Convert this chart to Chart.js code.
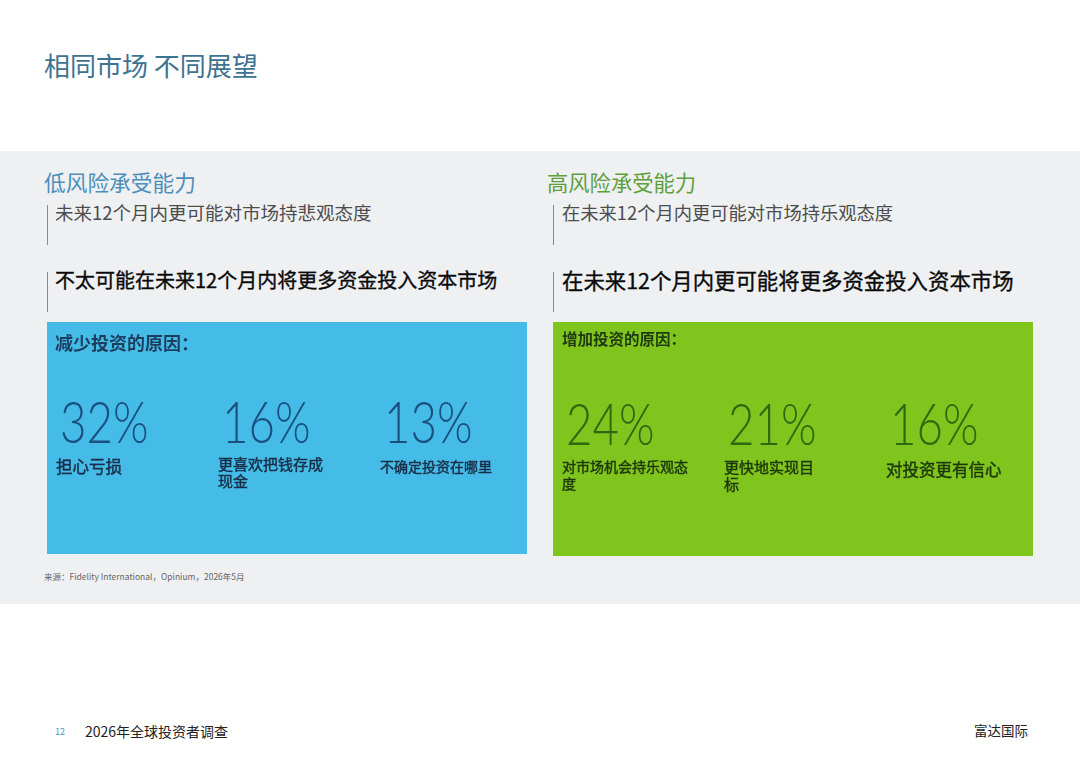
<!DOCTYPE html>
<html lang="zh-CN">
<head>
<meta charset="utf-8">
<script src="https://cdn.jsdelivr.net/npm/chart.js@4.4.1/dist/chart.umd.min.js"></script>
<style>
  html, body { margin: 0; padding: 0; background: #ffffff; }
  #page { position: relative; width: 1080px; height: 764px; overflow: hidden; background: #ffffff;
          font-family: "Noto Sans CJK SC", "Noto Sans", sans-serif; }
  .abs { position: absolute; white-space: nowrap; line-height: 1; }
  #band { position: absolute; left: 0; top: 151px; width: 1080px; height: 453px; background: #eff0f2; }
  .vbar { position: absolute; width: 1px; background: #8a8a8a; }
  .strong { font-weight: 400; color: #0a0a0a; -webkit-text-stroke: 0.35px #0a0a0a; }
  canvas { position: absolute; }
</style>
</head>
<body>
<div id="page">
  <div class="abs" style="left:44px; top:52px; font-size:26px; color:#3d7290;">相同市场 不同展望</div>
  <div id="band"></div>

  <div class="abs" style="left:44px; top:171px; font-size:21.7px; color:#4b8fba;">低风险承受能力</div>
  <div class="vbar" style="left:47px; top:205px; height:40px;"></div>
  <div class="abs" style="left:55px; top:203px; font-size:18.5px; color:#4d4d4d;">未来12个月内更可能对市场持悲观态度</div>
  <div class="vbar" style="left:47px; top:272px; height:40px;"></div>
  <div class="abs strong" style="left:55px; top:270px; font-size:20px;">不太可能在未来12个月内将更多资金投入资本市场</div>

  <div class="abs" style="left:547px; top:171px; font-size:21.3px; color:#5f9f3b;">高风险承受能力</div>
  <div class="vbar" style="left:553px; top:205px; height:40px;"></div>
  <div class="abs" style="left:562px; top:203px; font-size:18.3px; color:#4d4d4d;">在未来12个月内更可能对市场持乐观态度</div>
  <div class="vbar" style="left:553px; top:272px; height:40px;"></div>
  <div class="abs strong" style="left:562px; top:269px; font-size:21.4px;">在未来12个月内更可能将更多资金投入资本市场</div>

  <canvas id="lowChart" width="495" height="232" style="left:47px; top:322px;"></canvas>
  <canvas id="highChart" width="495" height="234" style="left:553px; top:322px;"></canvas>

  <div class="abs" style="left:55px; top:333px; font-size:18px; font-weight:bold; color:#1d3d5e;">减少投资的原因：</div>
  <div class="abs" style="left:562px; top:331px; font-size:15.5px; font-weight:bold; color:#1f3a10;">增加投资的原因：</div>

  <div class="abs" style="left:44px; top:572px; font-size:8.5px; color:#666;">来源：Fidelity International，Opinium，2026年5月</div>

  <div class="abs" style="left:55px; top:727px; font-size:9px; color:#4a9ab8;">12</div>
  <div class="abs" style="left:85px; top:724px; font-size:14px; color:#222;">2026年全球投资者调查</div>
  <div class="abs" style="left:974px; top:724px; font-size:13.5px; color:#222;">富达国际</div>
</div>

<script>
// ---- data ----
const lowCategories = ['担心亏损', '更喜欢把钱存成\n现金', '不确定投资在哪里'];
const lowValues = [32, 16, 13];
const highCategories = ['对市场机会持乐观态\n度', '更快地实现目\n标', '对投资更有信心'];
const highValues = [24, 21, 16];

// ---- plugin that paints the panel and writes each value at the scale position ----
const panelPlugin = {
  id: 'panel',
  beforeDraw(chart, args, opts) {
    const ctx = chart.ctx;
    ctx.save();
    ctx.fillStyle = opts.bg;
    ctx.fillRect(0, 0, opts.boxW, chart.height);
    ctx.restore();
  },
  afterDatasetsDraw(chart, args, opts) {
    const ctx = chart.ctx;
    const meta = chart.getDatasetMeta(0);
    const top = chart.chartArea.top;
    const labels = chart.data.labels;
    const values = chart.data.datasets[0].data;
    meta.data.forEach((el, i) => {
      const x = el.x;
      // big number
      ctx.save();
      ctx.fillStyle = opts.numColor;
      ctx.font = '300 57px Lato, "Noto Sans", sans-serif';
      ctx.textBaseline = 'alphabetic';
      ctx.translate(x + 4, top + opts.numBase);
      ctx.scale(0.8, 1);
      ctx.fillText(values[i].y + '%', 0, 0);
      ctx.restore();
      // label
      const lines = String(labels[i]).split('\n');
      ctx.save();
      ctx.fillStyle = opts.labelColor;
      ctx.strokeStyle = opts.labelColor;
      ctx.lineWidth = 0.45;
      ctx.font = '400 ' + opts.labelSizes[i] + 'px "Noto Sans CJK SC", sans-serif';
      ctx.textBaseline = 'middle';
      ctx.textAlign = 'left';
      const put = (t, y) => { ctx.fillText(t, x, y); ctx.strokeText(t, x, y); };
      if (lines.length === 1) {
        put(lines[0], top + opts.singleY);
      } else {
        lines.forEach((ln, k) => put(ln, top + opts.multiY + k * 17));
      }
      ctx.restore();
    });
  }
};

function makePanel(id, categories, values, style) {
  return new Chart(document.getElementById(id), {
    type: 'scatter',
    data: {
      labels: categories,
      datasets: [{ data: values.map((v, i) => ({ x: i, y: v })), pointRadius: 0, pointHoverRadius: 0 }]
    },
    options: {
      responsive: false,
      animation: false,
      devicePixelRatio: 1,
      layout: { padding: { left: 9, right: 0, top: 0, bottom: 0 } },
      scales: {
        x: { type: 'linear', min: 0, max: 3, display: false },
        y: { type: 'linear', min: 0, max: 40, display: false }
      },
      plugins: {
        legend: { display: false },
        tooltip: { enabled: false },
        panel: style
      }
    },
    plugins: [panelPlugin]
  });
}

makePanel('lowChart', lowCategories, lowValues, {
  bg: '#45bce8', boxW: 480, numColor: '#1a4f7e', labelColor: '#1a2e48',
  labelSizes: [16.5, 15, 14], numBase: 121, singleY: 145, multiY: 142
});
makePanel('highChart', highCategories, highValues, {
  bg: '#80c41e', boxW: 480, numColor: '#2c6912', labelColor: '#1d380b',
  labelSizes: [14, 15, 16.5], numBase: 123, singleY: 148, multiY: 145
});
</script>
</body>
</html>
